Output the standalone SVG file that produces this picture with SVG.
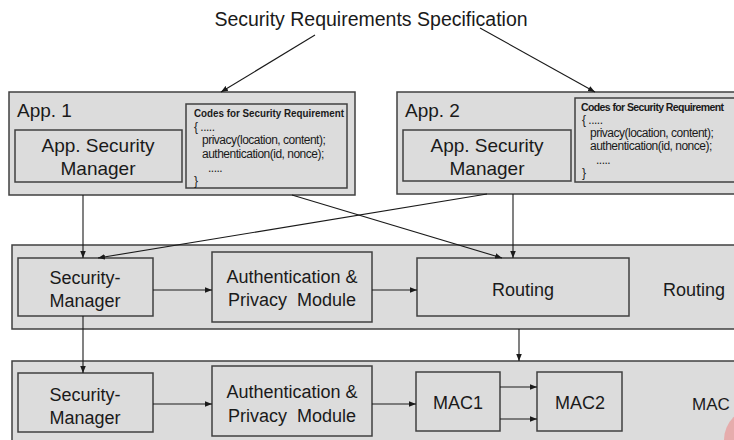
<svg xmlns="http://www.w3.org/2000/svg" width="734" height="440" viewBox="0 0 734 440">
<defs>
<marker id="ah" viewBox="0 0 10 10" refX="10" refY="5" markerWidth="7" markerHeight="7" markerUnits="userSpaceOnUse" orient="auto">
<path d="M0,1 L10,5 L0,9 z" fill="#1a1a1a"/>
</marker>
<style>
.box{fill:#dcdcdc;stroke:#404040;stroke-width:1.5}
.t{font-family:"Liberation Sans",Arial,sans-serif;fill:#1a1a1a}
.big{font-size:19px}
.mid{font-size:18px}
.code{font-family:"Liberation Sans",Arial,sans-serif;font-size:12px;fill:#1a1a1a;letter-spacing:-0.5px}
.hd{font-weight:bold;font-size:11.5px;letter-spacing:0}
.hd2{font-weight:bold;font-size:10.5px;letter-spacing:-0.6px}
.c{stroke:#1a1a1a;stroke-width:1.1;fill:none;marker-end:url(#ah)}
</style>
</defs>
<rect width="734" height="440" fill="#ffffff"/>
<text class="t" font-size="19.5" x="371" y="26" text-anchor="middle">Security Requirements Specification</text>

<g id="app1">
<rect class="box" x="9" y="92" width="346" height="103"/>
<text class="t big" x="17" y="117">App. 1</text>
<g id="app1-mgr">
<rect class="box" x="15" y="130" width="167" height="52"/>
<text class="t big" x="98" y="152" text-anchor="middle">App. Security</text>
<text class="t big" x="98" y="175" text-anchor="middle">Manager</text>
</g>
<g id="app1-code" xml:space="preserve">
<rect class="box" x="186" y="104" width="161" height="84"/>
<text class="code hd" x="194" y="117" textLength="150" lengthAdjust="spacingAndGlyphs">Codes for Security Requirement</text>
<text class="code" x="194" y="131">{   .....</text>
<text class="code" x="202" y="144">privacy(location, content);</text>
<text class="code" x="202" y="158">authentication(id, nonce);</text>
<text class="code" x="208" y="172">.....</text>
<text class="code" x="194" y="185">}</text>
</g>
</g>

<g id="app2">
<rect class="box" x="397" y="92" width="345" height="102"/>
<text class="t big" x="405" y="117">App. 2</text>
<g id="app2-mgr">
<rect class="box" x="403" y="130" width="168" height="51"/>
<text class="t big" x="487" y="152" text-anchor="middle">App. Security</text>
<text class="t big" x="487" y="175" text-anchor="middle">Manager</text>
</g>
<g id="app2-code" xml:space="preserve">
<rect class="box" x="575" y="98" width="170" height="84"/>
<text class="code hd2" x="581" y="111">Codes for Security Requirement</text>
<text class="code" x="582" y="124">{   .....</text>
<text class="code" x="590" y="137">privacy(location, content);</text>
<text class="code" x="590" y="150">authentication(id, nonce);</text>
<text class="code" x="596" y="164">.....</text>
<text class="code" x="582" y="177">}</text>
</g>
</g>

<g id="routing-layer">
<rect class="box" x="12" y="245" width="730" height="84"/>
<text class="t mid" x="663" y="296">Routing</text>
<g id="rl-secmgr">
<rect class="box" x="18" y="258" width="135" height="58"/>
<text class="t mid" x="85" y="284" text-anchor="middle">Security-</text>
<text class="t mid" x="85" y="307" text-anchor="middle">Manager</text>
</g>
<g id="rl-auth">
<rect class="box" x="212" y="252" width="160" height="70"/>
<text class="t mid" x="292" y="283" text-anchor="middle">Authentication &amp;</text>
<text class="t mid" x="292" y="306" text-anchor="middle" xml:space="preserve">Privacy  Module</text>
</g>
<g id="rl-routing">
<rect class="box" x="417" y="258" width="212" height="58"/>
<text class="t mid" x="523" y="296" text-anchor="middle">Routing</text>
</g>
</g>

<g id="mac-layer">
<rect class="box" x="12" y="361" width="730" height="90"/>
<text class="t" font-size="17" x="692" y="410">MAC</text>
<g id="ml-secmgr">
<rect class="box" x="18" y="373" width="135" height="59"/>
<text class="t mid" x="85" y="401" text-anchor="middle">Security-</text>
<text class="t mid" x="85" y="424" text-anchor="middle">Manager</text>
</g>
<g id="ml-auth">
<rect class="box" x="212" y="366" width="160" height="70"/>
<text class="t mid" x="292" y="398" text-anchor="middle">Authentication &amp;</text>
<text class="t mid" x="292" y="422" text-anchor="middle" xml:space="preserve">Privacy  Module</text>
</g>
<g id="mac1">
<rect class="box" x="416" y="372" width="84" height="59"/>
<text class="t mid" x="458" y="409" text-anchor="middle">MAC1</text>
</g>
<g id="mac2">
<rect class="box" x="537" y="372" width="85" height="59"/>
<text class="t mid" x="580" y="409" text-anchor="middle">MAC2</text>
</g>
</g>

<g id="connectors">
<line class="c" x1="315" y1="35" x2="221" y2="92"/>
<line class="c" x1="480" y1="28" x2="595" y2="92"/>
<line class="c" x1="83" y1="195" x2="83" y2="258"/>
<line class="c" x1="487" y1="194" x2="98" y2="258"/>
<line class="c" x1="292" y1="195" x2="502" y2="258"/>
<line class="c" x1="513" y1="194" x2="513" y2="258"/>
<line class="c" x1="153" y1="290" x2="212" y2="290"/>
<line class="c" x1="372" y1="290" x2="417" y2="290"/>
<line class="c" x1="83" y1="316" x2="83" y2="373"/>
<line class="c" x1="519" y1="329" x2="519" y2="361"/>
<line class="c" x1="153" y1="404" x2="212" y2="404"/>
<line class="c" x1="372" y1="404" x2="416" y2="404"/>
<line class="c" x1="500" y1="387" x2="537" y2="387"/>
<line class="c" x1="500" y1="419" x2="537" y2="419"/>
</g>
<circle cx="756" cy="440" r="32" fill="#e8a3a3" opacity="0.85"/>
</svg>
